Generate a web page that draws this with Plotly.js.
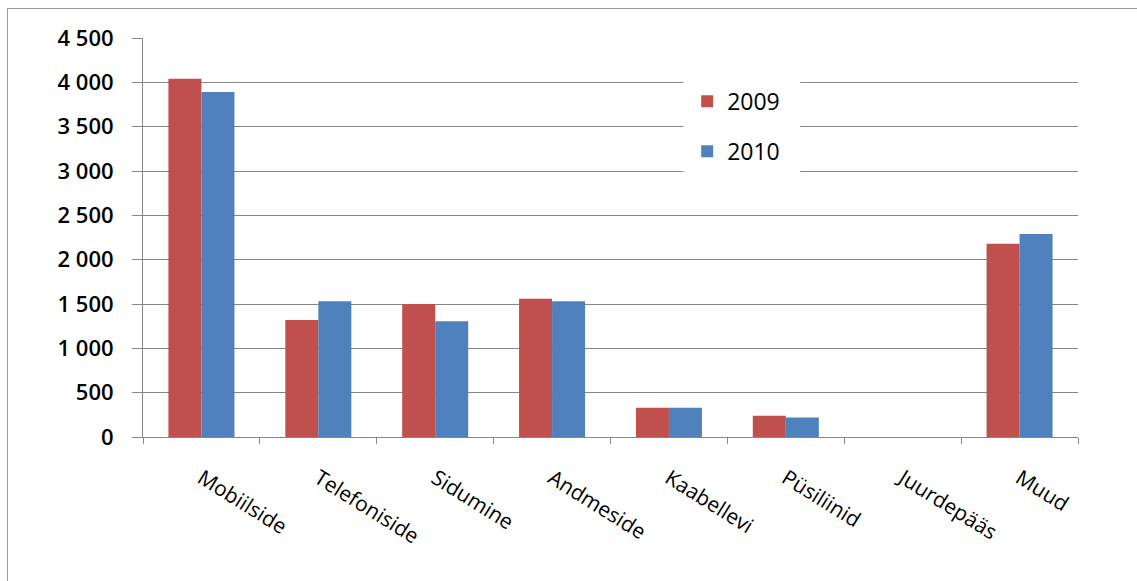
<!DOCTYPE html>
<html>
<head>
<meta charset="utf-8">
<script src="https://cdn.plot.ly/plotly-3.0.1.min.js"></script>
<style>
html,body{margin:0;padding:0;background:#fff;}
#wrap{position:absolute;left:0;top:0;width:1137px;height:581px;overflow:hidden;}
#frame{position:absolute;left:7px;top:8px;width:1140px;height:600px;border-left:1px solid #9a9a9a;border-top:1px solid #9a9a9a;pointer-events:none;}
#chart{position:absolute;left:0;top:0;width:1137px;height:581px;}
</style>
</head>
<body>
<div id="wrap"><div id="chart"></div><div id="frame"></div></div>
<script>
const categories = ["Mobiilside","Telefoniside","Sidumine","Andmeside","Kaabellevi","Püsiliinid","Juurdepääs","Muud"];
const values2009 = [4040, 1320, 1500, 1560, 330, 240, 0, 2180];
const values2010 = [3890, 1530, 1305, 1530, 330, 220, 0, 2290];
const seriesNames = ["2009","2010"];
const yTickVals = [0,500,1000,1500,2000,2500,3000,3500,4000,4500];
const yTickText = ["0","500","1 000","1 500","2 000","2 500","3 000","3 500","4 000","4 500"];

const gridGray = "#868686";
const traces = [
  {type:"bar", name:seriesNames[0], x:categories, y:values2009, marker:{color:"#C0504D"}, legendgroup:"a"},
  {type:"bar", name:seriesNames[1], x:categories, y:values2010, marker:{color:"#4F81BD"}, legendgroup:"b"}
];
const layout = {
  width:1137, height:581,
  margin:{l:143, r:59, t:38, b:144, pad:0},
  paper_bgcolor:"#fff", plot_bgcolor:"#fff",
  font:{family:"Open Sans, sans-serif", color:"#000"},
  barmode:"group", bargap:0.435, bargroupgap:0,
  showlegend:true,
  legend:{x:0.582, y:0.895, xanchor:"left", yanchor:"top", bgcolor:"rgba(0,0,0,0)",
          traceorder:"grouped", tracegroupgap:17, font:{size:23, color:"#000"}},
  xaxis:{type:"category", showline:true, linecolor:gridGray, linewidth:1,
         ticks:"outside", tickson:"boundaries", ticklen:6, tickcolor:gridGray,
         tickangle:32, tickfont:{size:21, color:"#000"}, ticklabelstandoff:20,
         showgrid:false, zeroline:false, fixedrange:true},
  yaxis:{range:[0,4500], tickvals:yTickVals, ticktext:yTickText,
         showline:true, linecolor:gridGray, linewidth:1,
         ticks:"outside", ticklen:10, tickcolor:gridGray,
         showgrid:true, gridcolor:gridGray, gridwidth:1, zeroline:false,
         tickfont:{size:22, color:"#000", weight:600}, ticklabelstandoff:14, fixedrange:true},
  shapes:[{type:"rect", xref:"paper", yref:"paper", x0:0.578, x1:0.703, y0:0.644, y1:0.907,
           fillcolor:"#fff", line:{width:0}, layer:"above"}]
};
Plotly.newPlot("chart", traces, layout, {displayModeBar:false, staticPlot:true});
</script>
</body>
</html>
